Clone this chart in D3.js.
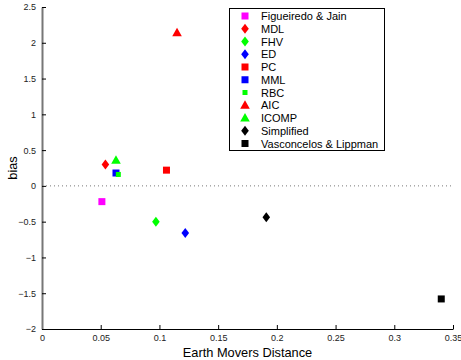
<!DOCTYPE html>
<html>
<head>
<meta charset="utf-8">
<script src="https://cdn.jsdelivr.net/npm/d3@7"></script>
<style>
  body { margin: 0; background: #fff; }
  svg { font-family: "Liberation Sans", Arial, sans-serif; }
</style>
</head>
<body>
<div id="chart"></div>
<script>
// data
const methods = ['Figueiredo & Jain', 'MDL', 'FHV', 'ED', 'PC', 'MML', 'RBC', 'AIC', 'ICOMP', 'Simplified', 'Vasconcelos & Lippman'];
const emd  = [0.051, 0.054, 0.097, 0.122, 0.106, 0.063, 0.065, 0.115, 0.063, 0.191, 0.340];
const bias = [-0.22, 0.30, -0.50, -0.66, 0.22, 0.18, 0.16, 2.14, 0.36, -0.44, -1.58];
const colors = ['#ff00ff', '#ff0000', '#00ff00', '#0000ff', '#ff0000', '#0000ff', '#00ff00', '#ff0000', '#00ff00', '#000000', '#000000'];
const shapes = ['square', 'diamond', 'diamond', 'diamond', 'square', 'square', 'smallsquare', 'triangle', 'triangle', 'diamond', 'square'];
const xTicks = [0, 0.05, 0.1, 0.15, 0.2, 0.25, 0.3, 0.35];
const yTicks = [-2, -1.5, -1, -0.5, 0, 0.5, 1, 1.5, 2, 2.5];

const width = 461, height = 360;
const margin = { top: 7, right: 8, bottom: 31, left: 42 };

const svg = d3.select('#chart').append('svg')
  .attr('width', width)
  .attr('height', height);

const x = d3.scaleLinear().domain([0, 0.35]).range([margin.left, width - margin.right]);
const y = d3.scaleLinear().domain([-2, 2.5]).range([height - margin.bottom, margin.top]);

function marker(g, shape, color) {
  if (shape === 'square') {
    g.append('rect').attr('x', -3.5).attr('y', -3.5).attr('width', 7).attr('height', 7).attr('fill', color);
  } else if (shape === 'smallsquare') {
    g.append('rect').attr('x', -2.5).attr('y', -2.5).attr('width', 5).attr('height', 5).attr('fill', color);
  } else if (shape === 'diamond') {
    g.append('path').attr('d', 'M0,-5L3.8,0L0,5L-3.8,0Z').attr('fill', color);
  } else if (shape === 'triangle') {
    g.append('path').attr('d', 'M0,-5L4.8,3.5L-4.8,3.5Z').attr('fill', color);
  }
}

// zero line
svg.append('line')
  .attr('x1', x(0)).attr('x2', x(0.35))
  .attr('y1', y(0)).attr('y2', y(0))
  .attr('stroke', '#777').attr('stroke-width', 1)
  .attr('stroke-dasharray', '1,3');

// axes
const xAxis = svg.append('g')
  .attr('transform', `translate(0,${y(-2)})`)
  .call(d3.axisBottom(x).tickValues(xTicks).tickSizeInner(-4).tickSizeOuter(0).tickPadding(6)
    .tickFormat(d => d === 0 ? '0' : String(d)));
xAxis.select('.domain').attr('stroke', '#000');
xAxis.selectAll('text').attr('font-size', 9).attr('fill', '#222');

const yAxis = svg.append('g')
  .attr('transform', `translate(${x(0)},0)`)
  .call(d3.axisLeft(y).tickValues(yTicks).tickSizeInner(-4).tickSizeOuter(0).tickPadding(6)
    .tickFormat(d => d < 0 ? '\u2212' + String(-d) : String(d)));
yAxis.select('.domain').attr('stroke', '#777').attr('stroke-width', 2);
yAxis.selectAll('text').attr('font-size', 9).attr('fill', '#222');

// points
methods.forEach((m, i) => {
  const g = svg.append('g').attr('transform', `translate(${x(emd[i])},${y(bias[i])})`);
  marker(g, shapes[i], colors[i]);
});

// axis labels
svg.append('text')
  .attr('x', (x(0) + x(0.35)) / 2).attr('y', 357)
  .attr('text-anchor', 'middle').attr('font-size', 12.8)
  .text('Earth Movers Distance');

svg.append('text')
  .attr('transform', `translate(17,${(y(-2) + y(2.5)) / 2}) rotate(-90)`)
  .attr('text-anchor', 'middle').attr('font-size', 12.8)
  .text('bias');

// legend
const legend = svg.append('g');
legend.append('rect')
  .attr('x', 229.5).attr('y', 8.5).attr('width', 155).attr('height', 142)
  .attr('fill', '#fff').attr('stroke', '#000').attr('stroke-width', 1);
methods.forEach((m, i) => {
  const row = legend.append('g').attr('transform', `translate(245,${16 + i * 12.75})`);
  marker(row, shapes[i], colors[i]);
  row.append('text').attr('x', 16).attr('y', 4).attr('font-size', 11).text(m);
});
</script>
</body>
</html>
